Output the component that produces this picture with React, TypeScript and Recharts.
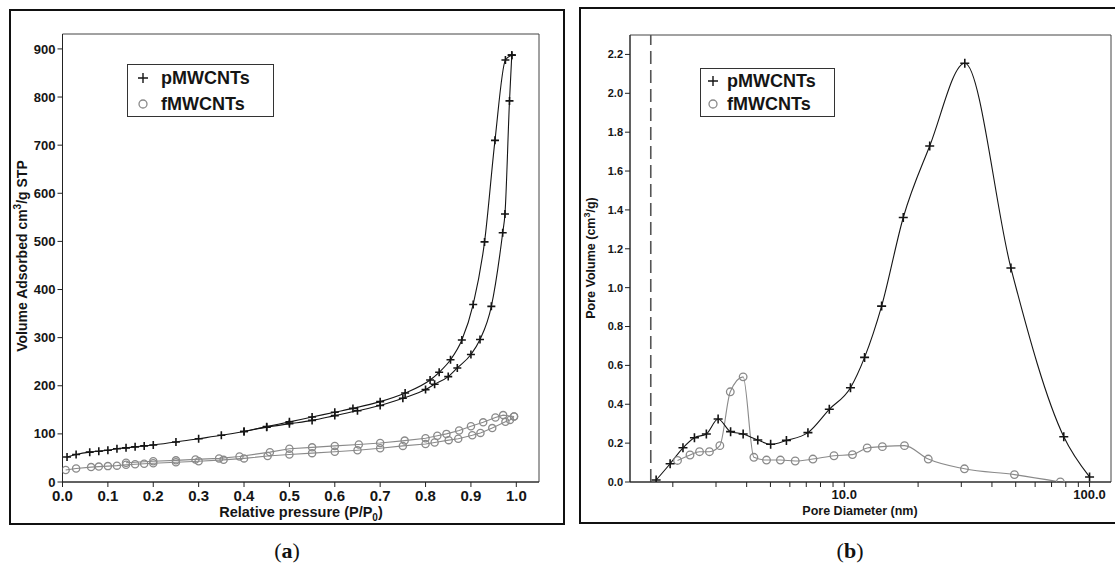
import { LineChart, Line, XAxis, YAxis, ReferenceLine, ReferenceArea } from 'recharts'

// (a) N2 isotherms
const pressureTicks = [0, 0.1, 0.2, 0.3, 0.4, 0.5, 0.6, 0.7, 0.8, 0.9, 1.0]
const volumeTicks = [0, 100, 200, 300, 400, 500, 600, 700, 800, 900]

const pAdsP = [0.01, 0.03, 0.06, 0.08, 0.1, 0.12, 0.14, 0.16, 0.18, 0.2, 0.25, 0.3, 0.35, 0.4, 0.45, 0.5, 0.55, 0.6, 0.65, 0.7, 0.75, 0.8, 0.82, 0.85, 0.87, 0.9, 0.92, 0.945, 0.97, 0.975, 0.985, 0.99]
const pAdsV = [52, 57, 62, 64, 66, 69, 71, 73, 75, 77, 83, 90, 97, 105, 114, 121, 128, 138, 148, 159, 174, 192, 203, 219, 237, 265, 296, 365, 518, 557, 792, 887]
const pDesP = [0.4, 0.45, 0.5, 0.55, 0.6, 0.64, 0.7, 0.755, 0.81, 0.83, 0.855, 0.88, 0.905, 0.93, 0.953, 0.976, 0.99]
const pDesV = [105, 115, 125, 135, 145, 153, 167, 185, 212, 228, 254, 295, 369, 499, 710, 877, 887]

const fAdsP = [0.007, 0.03, 0.063, 0.08, 0.1, 0.12, 0.14, 0.16, 0.18, 0.2, 0.25, 0.3, 0.355, 0.4, 0.452, 0.5, 0.55, 0.6, 0.65, 0.7, 0.75, 0.8, 0.82, 0.851, 0.872, 0.903, 0.921, 0.947, 0.976, 0.986, 0.995]
const fAdsV = [25, 28, 31, 32, 33, 34, 36, 37, 38, 39, 41, 43, 46, 49, 54, 57, 60, 63, 66, 70, 75, 79, 82, 87, 90, 97, 102, 112, 125, 129, 136]
const fDesP = [0.14, 0.2, 0.25, 0.293, 0.345, 0.39, 0.457, 0.5, 0.55, 0.6, 0.653, 0.7, 0.754, 0.8, 0.826, 0.846, 0.874, 0.9, 0.927, 0.954, 0.971, 0.995]
const fDesV = [40, 43, 45, 47, 49, 53, 62, 69, 72, 75, 78, 81, 86, 91, 96, 100, 107, 116, 124, 134, 139, 136]

// (b) pore size distribution
const diameterTicks = [2, 3, 4, 5, 6, 7, 8, 9, 10, 20, 30, 40, 50, 60, 70, 80, 90, 100]
const poreVolTicks = [0, 0.2, 0.4, 0.6, 0.8, 1.0, 1.2, 1.4, 1.6, 1.8, 2.0, 2.2]

const pPoreD = [1.71, 1.95, 2.2, 2.45, 2.74, 3.06, 3.44, 3.87, 4.44, 5.01, 5.81, 7.11, 8.69, 10.6, 12.1, 14.2, 17.4, 22.3, 31.0, 47.8, 78.5, 100]
const pPoreV = [0.01, 0.094, 0.176, 0.228, 0.247, 0.324, 0.259, 0.247, 0.216, 0.194, 0.214, 0.254, 0.374, 0.485, 0.641, 0.905, 1.361, 1.729, 2.155, 1.101, 0.233, 0.026]
const fPoreD = [2.09, 2.35, 2.57, 2.82, 3.11, 3.43, 3.87, 4.28, 4.82, 5.49, 6.31, 7.45, 9.08, 10.8, 12.4, 14.3, 17.6, 22.0, 30.9, 49.4, 76.0]
const fPoreV = [0.111, 0.139, 0.156, 0.156, 0.187, 0.464, 0.541, 0.127, 0.113, 0.113, 0.108, 0.118, 0.135, 0.141, 0.175, 0.182, 0.187, 0.118, 0.068, 0.038, 0.0]

const zip = (xs: number[], ys: number[]) => xs.map((x, i) => ({ x, y: ys[i] }))

const sans = "'Liberation Sans', Arial, Helvetica, sans-serif"
const INK = '#151515'
const GREY = '#8a8a8a'

const plusDot = (size: number) => (props: any) => {
  const { cx, cy, index } = props
  if (cx == null || cy == null) return <g key={`n${index}`} />
  return (
    <path
      key={`p${index}`}
      d={`M${cx - size},${cy}H${cx + size}M${cx},${cy - size}V${cy + size}`}
      stroke={INK}
      strokeWidth={1.6}
      fill="none"
    />
  )
}

const circleDot = (r: number) => (props: any) => {
  const { cx, cy, index } = props
  if (cx == null || cy == null) return <g key={`n${index}`} />
  return <circle key={`c${index}`} cx={cx} cy={cy} r={r} stroke={GREY} strokeWidth={1.3} fill="none" />
}

function LegendBox({ left, top, width, height, fontSize, symX, textX, row1, row2 }: any) {
  return (
    <div
      style={{
        position: 'absolute',
        left,
        top,
        width,
        height,
        border: '1px solid #333',
        boxSizing: 'border-box',
        background: '#fff',
      }}
    >
      <svg width={width} height={height} style={{ position: 'absolute', left: 0, top: 0 }}>
        <path d={`M${symX - 5},${row1}H${symX + 5}M${symX},${row1 - 5}V${row1 + 5}`} stroke={INK} strokeWidth={1.4} />
        <circle cx={symX} cy={row2} r={4} stroke={GREY} strokeWidth={1.3} fill="none" />
        <text x={textX} y={row1} dy="0.36em" fontFamily={sans} fontWeight="bold" fontSize={fontSize} fill={INK}>
          pMWCNTs
        </text>
        <text x={textX} y={row2} dy="0.36em" fontFamily={sans} fontWeight="bold" fontSize={fontSize} fill={INK}>
          fMWCNTs
        </text>
      </svg>
    </div>
  )
}

function PanelA() {
  return (
    <LineChart width={565} height={525} margin={{ top: 34, right: 26, bottom: 13, left: 22.5 }}>
      <ReferenceArea x1={0} x2={1.05} y1={0} y2={931} fill="none" stroke="#444" strokeWidth={1} ifOverflow="visible" />
      <XAxis
        type="number"
        dataKey="x"
        domain={[0, 1.05]}
        ticks={pressureTicks}
        allowDataOverflow
        tickFormatter={(v: number) => v.toFixed(1)}
        height={30}
        tickSize={5}
        tickMargin={3}
        stroke="#222"
        tick={{ fill: INK, fontFamily: sans, fontWeight: 'bold', fontSize: 15 }}
        label={{
          content: () => (
            <text x={301} y={517} textAnchor="middle" fontFamily={sans} fontWeight="bold" fontSize={14.5} fill={INK}>
              Relative pressure (P/P<tspan dy={4} fontSize={10}>0</tspan>
              <tspan dy={-4}>)</tspan>
            </text>
          ),
        }}
      />
      <YAxis
        type="number"
        dataKey="y"
        domain={[0, 931]}
        ticks={volumeTicks}
        allowDataOverflow
        width={40}
        tickSize={5}
        tickMargin={2}
        stroke="#222"
        tick={{ fill: INK, fontFamily: sans, fontWeight: 'bold', fontSize: 13 }}
        label={{
          content: () => (
            <text
              x={27}
              y={256}
              transform="rotate(-90 27 256)"
              textAnchor="middle"
              fontFamily={sans}
              fontWeight="bold"
              fontSize={14}
              fill={INK}
            >
              Volume Adsorbed cm<tspan dy={-6} fontSize={10}>3</tspan>
              <tspan dy={6}>/g STP</tspan>
            </text>
          ),
        }}
      />
      <Line data={zip(fAdsP, fAdsV)} dataKey="y" type="linear" stroke={GREY} strokeWidth={1.1} dot={circleDot(3.6)} isAnimationActive={false} />
      <Line data={zip(fDesP, fDesV)} dataKey="y" type="linear" stroke={GREY} strokeWidth={1.1} dot={circleDot(3.6)} isAnimationActive={false} />
      <Line data={zip(pAdsP, pAdsV)} dataKey="y" type="monotone" stroke={INK} strokeWidth={1.1} dot={plusDot(4)} isAnimationActive={false} />
      <Line data={zip(pDesP, pDesV)} dataKey="y" type="monotone" stroke={INK} strokeWidth={1.1} dot={plusDot(4)} isAnimationActive={false} />
    </LineChart>
  )
}

function PanelB() {
  return (
    <LineChart width={536} height={518} margin={{ top: 28, right: 4, bottom: 13, left: 11 }}>
      <ReferenceArea x1={1.338} x2={122.3} y1={0} y2={2.3} fill="none" stroke="#444" strokeWidth={1} ifOverflow="visible" />
      <XAxis
        type="number"
        dataKey="x"
        scale="log"
        domain={[1.338, 122.3]}
        ticks={diameterTicks}
        allowDataOverflow
        interval={0}
        tickFormatter={(v: number) => (v === 10 || v === 100 ? v.toFixed(1) : '')}
        height={30}
        tickSize={5}
        tickMargin={3}
        stroke="#222"
        tick={{ fill: INK, fontFamily: sans, fontWeight: 'bold', fontSize: 13 }}
        label={{
          content: () => (
            <text x={281} y={508} textAnchor="middle" fontFamily={sans} fontWeight="bold" fontSize={12.5} fill={INK}>
              Pore Diameter (nm)
            </text>
          ),
        }}
      />
      <YAxis
        type="number"
        dataKey="y"
        domain={[0, 2.3]}
        ticks={poreVolTicks}
        allowDataOverflow
        interval={0}
        tickFormatter={(v: number) => v.toFixed(1)}
        width={40}
        tickSize={5}
        tickMargin={2}
        stroke="#222"
        tick={{ fill: INK, fontFamily: sans, fontWeight: 'bold', fontSize: 11 }}
        label={{
          content: () => (
            <text
              x={16}
              y={251}
              transform="rotate(-90 16 251)"
              textAnchor="middle"
              fontFamily={sans}
              fontWeight="bold"
              fontSize={12.5}
              fill={INK}
            >
              Pore Volume (cm<tspan dy={-5} fontSize={9}>3</tspan>
              <tspan dy={5}>/g)</tspan>
            </text>
          ),
        }}
      />
      <ReferenceLine x={1.626} stroke="#555" strokeWidth={1.6} strokeDasharray="13 6" />
      <Line data={zip(fPoreD, fPoreV)} dataKey="y" type="monotone" stroke={GREY} strokeWidth={1.1} dot={circleDot(3.8)} isAnimationActive={false} />
      <Line data={zip(pPoreD, pPoreV)} dataKey="y" type="monotone" stroke={INK} strokeWidth={1.1} dot={plusDot(4.5)} isAnimationActive={false} />
    </LineChart>
  )
}

export default function App() {
  return (
    <div style={{ position: 'absolute', left: 0, top: 0, width: 1115, height: 565, background: '#fff', overflow: 'hidden' }}>
      <div style={{ position: 'absolute', left: 9, top: 9, width: 556, height: 516, border: '2px solid #111', boxSizing: 'border-box' }} />
      <div style={{ position: 'absolute', left: 579, top: 7, width: 560, height: 517, border: '2px solid #111', boxSizing: 'border-box' }} />
      <div style={{ position: 'absolute', left: 0, top: 0 }}>
        <PanelA />
      </div>
      <div style={{ position: 'absolute', left: 579, top: 7 }}>
        <PanelB />
      </div>
      <LegendBox left={127} top={64} width={147} height={53} fontSize={18} symX={15} textX={33} row1={13} row2={39} />
      <LegendBox left={700} top={68} width={135} height={49} fontSize={18} symX={12} textX={26} row1={12} row2={35} />
      <div style={{ position: 'absolute', left: 0, top: 538, width: 574, textAlign: 'center', fontFamily: "'Liberation Serif', 'DejaVu Serif', serif", fontSize: 22, color: '#111' }}>
        (<b>a</b>)
      </div>
      <div style={{ position: 'absolute', left: 560, top: 538, width: 580, textAlign: 'center', fontFamily: "'Liberation Serif', 'DejaVu Serif', serif", fontSize: 22, color: '#111' }}>
        (<b>b</b>)
      </div>
    </div>
  )
}
